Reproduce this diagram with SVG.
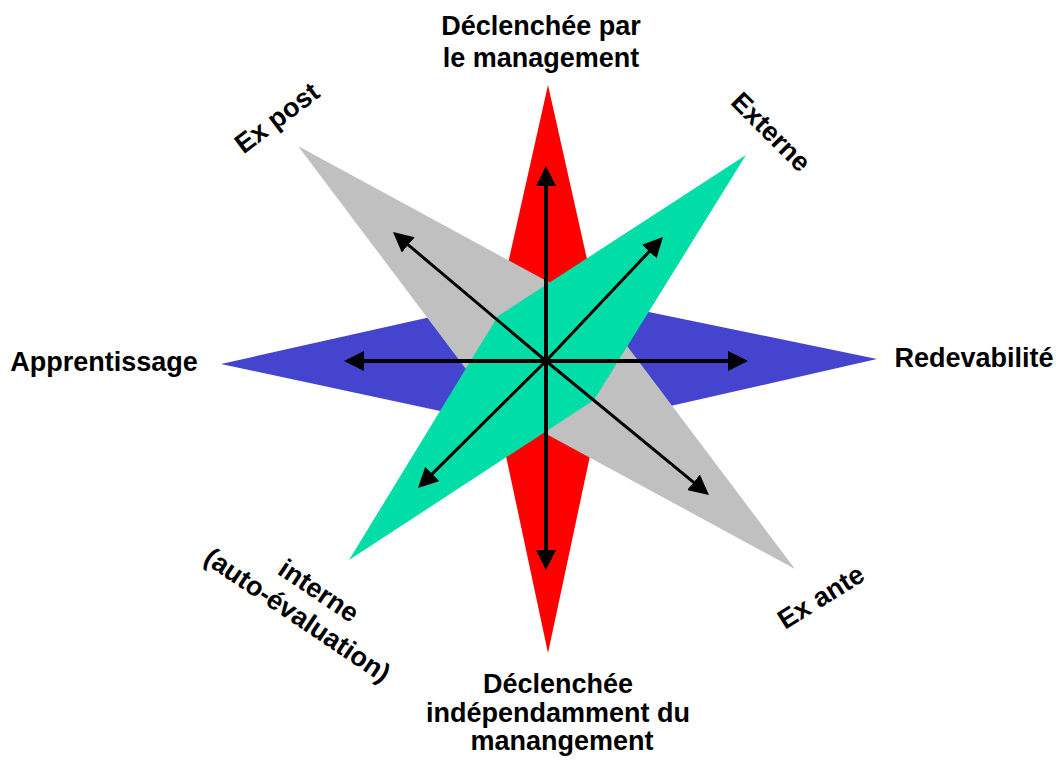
<svg xmlns="http://www.w3.org/2000/svg" width="1056" height="765" viewBox="0 0 1056 765">
<style>
text{font-family:"Liberation Sans",Arial,sans-serif;font-weight:bold;font-size:27px;fill:#000;text-anchor:middle}
.ax{stroke:#000;stroke-width:4;fill:none;marker-end:url(#ah)}
.dg{stroke:#000;stroke-width:3;fill:none;marker-end:url(#ah)}
</style>
<defs>
<marker id="ah" viewBox="0 0 20 20" markerWidth="20" markerHeight="20" refX="12" refY="10" orient="auto" markerUnits="userSpaceOnUse">
<path d="M0,0 L20,10 L0,20 z" fill="#000"/>
</marker>
</defs>
<rect width="1056" height="765" fill="#fff"/>
<g id="blue"><polygon points="221,364 547,291 877,359 547,434" fill="#4444CF"/></g>
<g id="red"><polygon points="548,85 610,362 548,653 486,362" fill="#FF0000"/></g>
<g id="gray"><polygon points="298,146 600,310 795,569 493,405" fill="#C0C0C0"/></g>
<g id="green"><polygon points="746,155 594,400 349,560 498,316" fill="#00DDA6"/></g>
<g id="connectors">
<line class="ax" x1="546" y1="361" x2="546" y2="174"/>
<line class="ax" x1="546" y1="361" x2="546" y2="562"/>
<line class="ax" x1="546" y1="361" x2="352" y2="361"/>
<line class="ax" x1="546" y1="361" x2="740" y2="361"/>
<line class="dg" x1="546" y1="361" x2="399.1" y2="237.2"/>
<line class="dg" x1="546" y1="361" x2="657.5" y2="242.8"/>
<line class="dg" x1="546" y1="361" x2="423.7" y2="482.4"/>
<line class="dg" x1="546" y1="361" x2="702.8" y2="489.9"/>
</g>
<g id="label-top"><text x="541" y="35">Déclenchée par</text><text x="541" y="67">le management</text></g>
<g id="label-bottom"><text x="558" y="693">Déclenchée</text><text x="558" y="722">indépendamment du</text><text x="562" y="750">manangement</text></g>
<g id="label-left"><text x="104" y="371">Apprentissage</text></g>
<g id="label-right"><text x="974" y="367">Redevabilité</text></g>
<g id="label-expost"><text transform="translate(277,118) rotate(-37)" y="9">Ex post</text></g>
<g id="label-externe"><text transform="translate(771,132) rotate(45)" y="9">Externe</text></g>
<g id="label-exante"><text transform="translate(821,597) rotate(-32)" y="9">Ex ante</text></g>
<g id="label-interne"><g transform="translate(308,603) rotate(34)"><text x="2" y="-7">interne</text><text x="-2" y="25">(auto-évaluation)</text></g></g>
</svg>
